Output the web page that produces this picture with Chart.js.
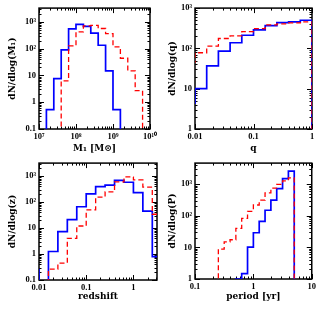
<!DOCTYPE html>
<html><head><meta charset="utf-8">
<script src="https://cdn.jsdelivr.net/npm/chart.js@4"></script>
<style>
html,body{margin:0;padding:0;background:#fff;width:319px;height:319px;overflow:hidden}
canvas{position:absolute}
</style></head><body>
<canvas id="c1" width="160" height="160" style="left:0;top:0"></canvas>
<canvas id="c2" width="159" height="160" style="left:160px;top:0"></canvas>
<canvas id="c3" width="160" height="164" style="left:0;top:155px"></canvas>
<canvas id="c4" width="159" height="164" style="left:160px;top:155px"></canvas>
<script>
// ---- Panel 1: primary mass ----
const m1LogEdgesBlue = [7.2,7.4,7.6,7.8,8.0,8.2,8.4,8.6,8.8,9.0,9.2];
const m1Blue = [0.53,7.6,91,550,820,690,380,135,15,0.53];
const m1LogEdgesRed = [7.6,7.8,8.0,8.2,8.4,8.6,8.8,9.0,9.2,9.4,9.6,9.8];
const m1Red = [6.3,128,425,710,750,570,370,118,44,15,2.7];
const m1XTicks = [1e7,1e8,1e9,1e10];
const m1XLabels = ['10\u2077','10\u2078','10\u2079','10\u00b9\u2070'];
const m1YTicks = [0.1,1,10,100,1000];
const m1YLabels = ['0.1','1','10','10\u00b2','10\u00b3'];

// ---- Panel 2: mass ratio ----
const qLogEdges = [-2.2,-2.0,-1.8,-1.6,-1.4,-1.2,-1.0,-0.8,-0.6,-0.4,-0.2,0.0];
const qBlue = [4.4,10,37,86,138,212,288,367,436,457,500];
const qRed = [46,78,114,176,205,262,310,382,405,428,454];
const qXTicks = [0.01,0.1,1];
const qXLabels = ['0.01','0.1','1'];
const qYTicks = [1,10,100,1000];
const qYLabels = ['1','10','10\u00b2','10\u00b3'];

// ---- Panel 3: redshift ----
const zLogEdgesBlue = [-2.2,-2.0,-1.8,-1.6,-1.4,-1.2,-1.0,-0.8,-0.6,-0.4,-0.2,0.0,0.2,0.4,0.6];
const zBlue = [0.25,0,1.25,7.3,21,66,207,395,450,680,580,230,45,0.8];
const zLogEdgesRed = [-1.8,-1.6,-1.4,-1.2,-1.0,-0.8,-0.6,-0.4,-0.2,0.0,0.2,0.4,0.6];
const zRed = [0.26,0.45,4.0,12,50,156,245,600,930,710,375,34];
const zXTicks = [0.01,0.1,1];
const zXLabels = ['0.01','0.1','1'];
const zYTicks = [0.1,1,10,100,1000];
const zYLabels = ['0.1','1','10','10\u00b2','10\u00b3'];

// ---- Panel 4: period ----
const pLogEdgesBlue = [-0.3,-0.2,-0.1,0.0,0.1,0.2,0.3,0.4,0.5,0.6,0.7];
const pBlue = [1.0,1.48,10.2,29,66,149,309,720,1490,2580];
const pLogEdgesRed = [-0.6,-0.5,-0.4,-0.3,-0.2,-0.1,0.0,0.1,0.2,0.3,0.4,0.5,0.6,0.7];
const pRed = [8.8,15,17.4,40,82,138,218,309,530,740,980,1270,1570];
const pXTicks = [0.1,1,10];
const pXLabels = ['0.1','1','10'];
const pYTicks = [1,10,100,1000];
const pYLabels = ['1','10','10\u00b2','10\u00b3'];

const TICKFONT = 'Liberation Serif';
const TITLEFONT = 'DejaVu Serif';
const BLUE = '#0000ff', RED = '#ff0000';

function histPoints(logEdges, vals, floor){
  const f = v => (v > 0 ? v : floor);
  const pts = [{x: Math.pow(10, logEdges[0]), y: floor}];
  for (let i = 0; i < vals.length; i++) pts.push({x: Math.pow(10, logEdges[i]), y: f(vals[i])});
  pts.push({x: Math.pow(10, logEdges[logEdges.length-1]), y: floor});
  return pts;
}

const boxPlugin = {
  id: 'box',
  beforeDatasetsDraw(chart){
    const {ctx, chartArea: a, scales} = chart;
    ctx.save();
    ctx.strokeStyle = '#000';
    ctx.lineWidth = 1;
    const drawTicks = (scale, horiz) => {
      const lo = Math.floor(Math.log10(scale.min)), hi = Math.ceil(Math.log10(scale.max));
      for (let d = lo; d <= hi; d++) {
        for (let m = 1; m <= 9; m++) {
          const v = m * Math.pow(10, d);
          if (v < scale.min * 0.999 || v > scale.max * 1.001) continue;
          const len = m === 1 ? 5 : 2.5;
          const p = Math.round(scale.getPixelForValue(v)) + 0.5;
          ctx.beginPath();
          if (horiz) {
            ctx.moveTo(p, a.bottom); ctx.lineTo(p, a.bottom - len);
            ctx.moveTo(p, a.top); ctx.lineTo(p, a.top + len);
          } else {
            ctx.moveTo(a.left, p); ctx.lineTo(a.left + len, p);
            ctx.moveTo(a.right, p); ctx.lineTo(a.right - len, p);
          }
          ctx.stroke();
        }
      }
    };
    drawTicks(scales.x, true);
    drawTicks(scales.y, false);
    ctx.lineWidth = 1.5;
    ctx.strokeRect(a.left, a.top, a.right - a.left, a.bottom - a.top);
    ctx.restore();
  }
};

function makePanel(id, cfg){
  const tickMap = (vals, labs) => (v) => { const i = vals.findIndex(t => Math.abs(t - v) / t < 1e-6); return i >= 0 ? labs[i] : ''; };
  const floor = cfg.ymin * 0.01;
  new Chart(document.getElementById(id), {
    type: 'line',
    data: { datasets: [
      { data: histPoints(cfg.redEdges, cfg.red, floor), borderColor: RED, borderWidth: 1.3, borderDash: [5,3], stepped: true, pointRadius: 0, fill: false },
      { data: histPoints(cfg.blueEdges, cfg.blue, floor), borderColor: BLUE, borderWidth: 1.7, stepped: true, pointRadius: 0, fill: false }
    ]},
    options: {
      responsive: false, animation: false, devicePixelRatio: 1,
      layout: { autoPadding: false, padding: cfg.pad },
      plugins: { legend: {display: false}, tooltip: {enabled: false} },
      scales: {
        x: {
          type: 'logarithmic', min: cfg.xmin, max: cfg.xmax,
          grid: {display: false, drawTicks: false, tickLength: 0}, border: {display: false},
          afterBuildTicks: s => { s.ticks = cfg.xTicks.map(v => ({value: v})); },
          afterFit: s => { s.height = cfg.xh; },
          ticks: { color: '#000', padding: 3, maxRotation: 0, autoSkip: false, font: {family: TICKFONT, size: 8.5, weight: 'bold'}, callback: tickMap(cfg.xTicks, cfg.xLabels) },
          title: { display: true, text: cfg.xTitle, color: '#000', font: {family: TITLEFONT, size: 9, weight: 'bold'}, padding: {top: 0, bottom: cfg.xtp} }
        },
        y: {
          type: 'logarithmic', min: cfg.ymin, max: cfg.ymax,
          grid: {display: false, drawTicks: false, tickLength: 0}, border: {display: false},
          afterBuildTicks: s => { s.ticks = cfg.yTicks.map(v => ({value: v})); },
          afterFit: s => { s.width = cfg.yw; },
          ticks: { color: '#000', padding: 3, autoSkip: false, font: {family: TICKFONT, size: 8.5, weight: 'bold'}, callback: tickMap(cfg.yTicks, cfg.yLabels) },
          title: { display: true, text: cfg.yTitle, color: '#000', font: {family: TITLEFONT, size: 9, weight: 'bold'}, padding: {top: 7.6, bottom: 0} }
        }
      }
    },
    plugins: [boxPlugin]
  });
}

makePanel('c1', { blueEdges: m1LogEdgesBlue, blue: m1Blue, redEdges: m1LogEdgesRed, red: m1Red,
  xmin: 1e7, xmax: 1e10, ymin: 0.1, ymax: 3300, xTicks: m1XTicks, xLabels: m1XLabels, yTicks: m1YTicks, yLabels: m1YLabels,
  xTitle: 'M\u2081 [M\u2299]', yTitle: 'dN/dlog(M\u2081)', pad: {left: 0, top: 7, right: 3, bottom: 0}, xh: 31, yw: 39, xtp: 5.6 });
makePanel('c2', { blueEdges: qLogEdges, blue: qBlue, redEdges: qLogEdges, red: qRed,
  xmin: 0.01, xmax: 1, ymin: 1, ymax: 1000, xTicks: qXTicks, xLabels: qXLabels, yTicks: qYTicks, yLabels: qYLabels,
  xTitle: 'q', yTitle: 'dN/dlog(q)', pad: {left: 0, top: 7, right: 7, bottom: 0}, xh: 31, yw: 35, xtp: 5.6 });
makePanel('c3', { blueEdges: zLogEdgesBlue, blue: zBlue, redEdges: zLogEdgesRed, red: zRed,
  xmin: 0.01, xmax: 3.16, ymin: 0.1, ymax: 3160, xTicks: zXTicks, xLabels: zXLabels, yTicks: zYTicks, yLabels: zYLabels,
  xTitle: 'redshift', yTitle: 'dN/dlog(z)', pad: {left: 0, top: 5, right: 3, bottom: 0}, xh: 39, yw: 39, xtp: 16.6 });
makePanel('c4', { blueEdges: pLogEdgesBlue, blue: pBlue, redEdges: pLogEdgesRed, red: pRed,
  xmin: 0.1, xmax: 10, ymin: 1, ymax: 4600, xTicks: pXTicks, xLabels: pXLabels, yTicks: pYTicks, yLabels: pYLabels,
  xTitle: 'period [yr]', yTitle: 'dN/dlog(P)', pad: {left: 0, top: 5, right: 7, bottom: 0}, xh: 40, yw: 35, xtp: 16.6 });
</script>
</body></html>
